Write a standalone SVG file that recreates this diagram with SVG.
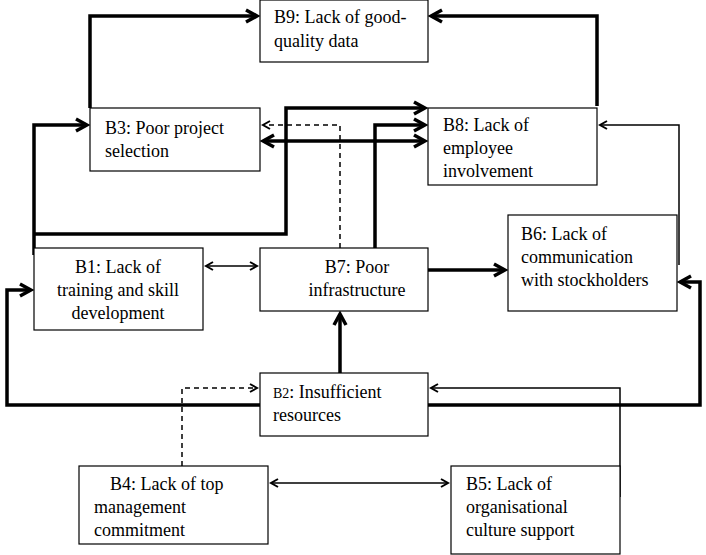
<svg xmlns="http://www.w3.org/2000/svg" width="706" height="555" viewBox="0 0 706 555">
<style>
.n{fill:#fff;stroke:#000;stroke-width:1.2}
.x{font-family:'Liberation Serif','Times New Roman','DejaVu Serif',serif;font-size:18px;fill:#000}
.k{fill:none;stroke:#000;stroke-width:3.5}
.t{fill:none;stroke:#000;stroke-width:1.5}
.d{fill:none;stroke:#000;stroke-width:1.5;stroke-dasharray:5,4}
</style>
<defs>
<marker id="a" markerWidth="10" markerHeight="10" refX="8" refY="5" orient="auto-start-reverse" markerUnits="userSpaceOnUse" viewBox="0 0 10 10"><path d="M1,1 L8,5 L1,9" fill="none" stroke="#000" stroke-width="2"/></marker>
<marker id="b" markerWidth="16" markerHeight="16" refX="13" refY="8" orient="auto-start-reverse" markerUnits="userSpaceOnUse" viewBox="0 0 16 16"><path d="M2,2 L13,8 L2,14" fill="none" stroke="#000" stroke-width="3.5"/></marker>
</defs>
<g id="connectors">
<path class="k" d="M90,108 V16 H257" marker-end="url(#b)"/>
<path class="k" d="M597,106 V16 H431" marker-end="url(#b)"/>
<path class="k" d="M34,255 V125 H87" marker-end="url(#b)"/>
<path class="k" d="M34,234 H286 V108 H425" marker-end="url(#b)"/>
<path class="k" d="M375,248 V125 H425" marker-end="url(#b)"/>
<path class="k" d="M263,141 H425" marker-start="url(#b)" marker-end="url(#b)"/>
<path class="d" d="M340,248 V125 H263" marker-end="url(#a)"/>
<path class="t" d="M206,266 H257" marker-start="url(#a)" marker-end="url(#a)"/>
<path class="k" d="M428,270 H505" marker-end="url(#b)"/>
<path class="t" d="M679,265 V125 H600" marker-end="url(#a)"/>
<path class="k" d="M340,373 V314" marker-end="url(#b)"/>
<path class="k" d="M260,405 H7 V290 H31" marker-end="url(#b)"/>
<path class="k" d="M428,405 H700 V282 H680" marker-end="url(#b)"/>
<path class="d" d="M182,466 V388 H257" marker-end="url(#a)"/>
<path class="t" d="M620,497 V388 H431" marker-end="url(#a)"/>
<path class="t" d="M271,483 H448" marker-start="url(#a)" marker-end="url(#a)"/>
</g>
<g id="B9"><rect class="n" x="260" y="0" width="168" height="62"/><text class="x" x="274" y="23">B9: Lack of good-</text><text class="x" x="274" y="47">quality data</text></g>
<g id="B3"><rect class="n" x="90" y="108" width="170" height="63"/><text class="x" x="105" y="134">B3: Poor project</text><text class="x" x="105" y="157">selection</text></g>
<g id="B8"><rect class="n" x="428" y="108" width="169" height="77"/><text class="x" x="443" y="131">B8: Lack of</text><text class="x" x="443" y="154">employee</text><text class="x" x="443" y="177">involvement</text></g>
<g id="B1"><rect class="n" x="34" y="248" width="169" height="82"/><text class="x" x="118" y="273" text-anchor="middle">B1: Lack of</text><text class="x" x="118" y="296" text-anchor="middle">training and skill</text><text class="x" x="118" y="319" text-anchor="middle">development</text></g>
<g id="B7"><rect class="n" x="260" y="248" width="168" height="63"/><text class="x" x="357" y="273" text-anchor="middle">B7: Poor</text><text class="x" x="357" y="296" text-anchor="middle">infrastructure</text></g>
<g id="B6"><rect class="n" x="508" y="215" width="169" height="96"/><text class="x" x="521" y="240">B6: Lack of</text><text class="x" x="521" y="263">communication</text><text class="x" x="521" y="286">with stockholders</text></g>
<g id="B2"><rect class="n" x="260" y="373" width="168" height="63"/><text class="x" x="273" y="398"><tspan font-size="14">B2</tspan>: Insufficient</text><text class="x" x="273" y="421">resources</text></g>
<g id="B4"><rect class="n" x="79" y="466" width="189" height="78"/><text class="x" x="110" y="490">B4: Lack of top</text><text class="x" x="94" y="513">management</text><text class="x" x="94" y="536">commitment</text></g>
<g id="B5"><rect class="n" x="451" y="466" width="169" height="88"/><text class="x" x="466" y="490">B5: Lack of</text><text class="x" x="466" y="513">organisational</text><text class="x" x="466" y="536">culture support</text></g>
</svg>
